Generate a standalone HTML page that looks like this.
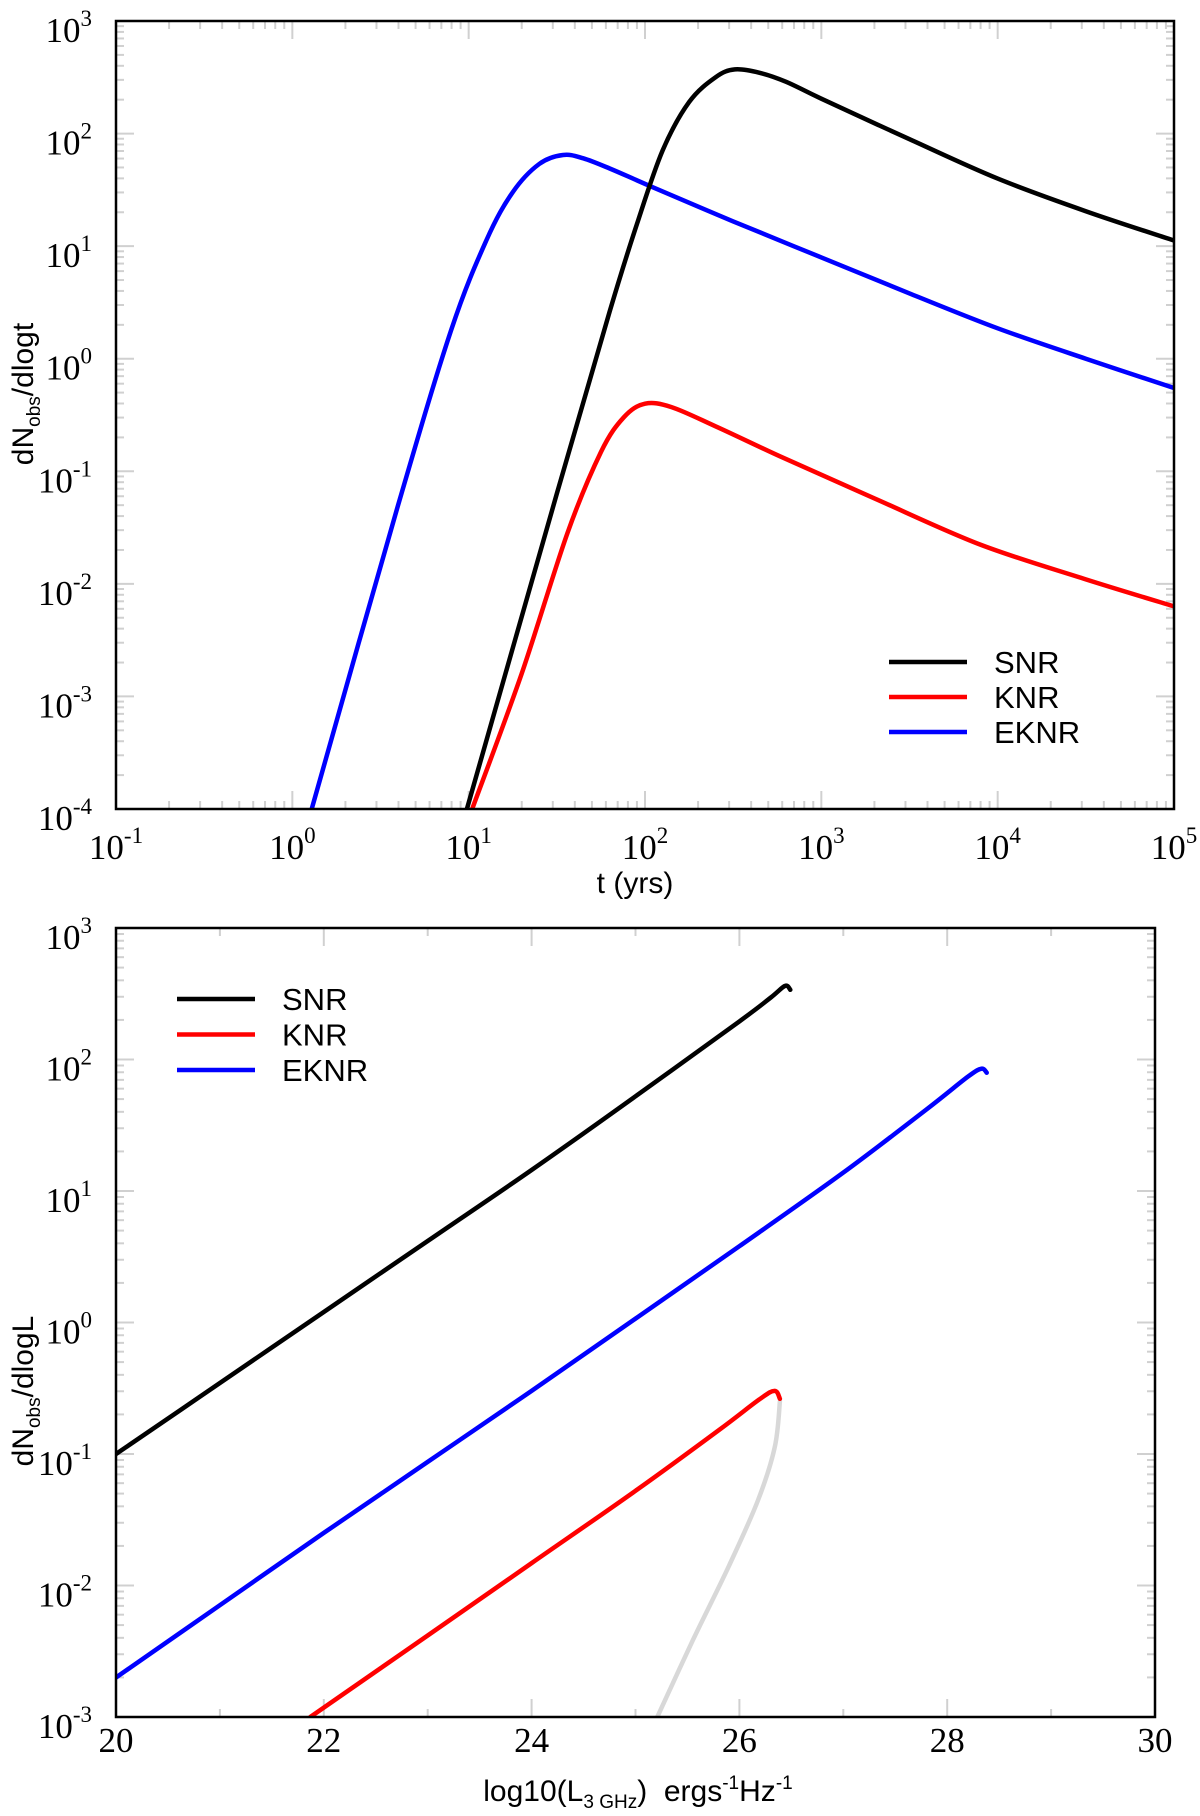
<!DOCTYPE html>
<html><head><meta charset="utf-8"><style>
html,body{margin:0;padding:0;background:#fff}
svg{display:block}
text{font-family:"Liberation Serif",serif;fill:#000}
.sans{font-family:"Liberation Sans",sans-serif}
</style></head><body>
<svg id="fig" width="1200" height="1816" viewBox="0 0 1200 1816" xmlns="http://www.w3.org/2000/svg">
<defs>
<clipPath id="clipTop"><rect x="116" y="21" width="1058" height="788"/></clipPath>
<clipPath id="clipBot"><rect x="116" y="928" width="1039" height="789"/></clipPath>
</defs>
<g id="top"></g>
<g id="bot"></g>
</svg>
<script>
// ---- Top chart data (log10 t, log10 dN/dlogt) ----
const topSnrLogT = [0.99,1.5,1.8,1.955,2.1,2.25,2.4,2.51,2.65,2.8,3.0,3.5,4.0,4.5,5.0];
const topSnrLogY = [-4,-1.2,0.42,1.2,1.85,2.28,2.5,2.57,2.54,2.46,2.31,1.95,1.6,1.31,1.05];
const topKnrLogT = [1.02,1.3,1.56,1.75,1.88,2.0,2.15,2.4,2.77,3.3,3.9,4.5,5.0];
const topKnrLogY = [-4,-2.8,-1.55,-0.83,-0.52,-0.40,-0.43,-0.6,-0.87,-1.24,-1.65,-1.96,-2.2];
const topEknrLogT = [0.11,0.6,0.9,1.1,1.25,1.4,1.535,1.65,1.8,2.02,2.5,3.0,3.5,4.0,4.5,5.0];
const topEknrLogY = [-4,-1.3,0.25,1.05,1.48,1.73,1.81,1.78,1.69,1.54,1.22,0.9,0.58,0.27,0.0,-0.26];
const topXTicks = [-1,0,1,2,3,4,5];
const topYTicks = [-4,-3,-2,-1,0,1,2,3];
// ---- Bottom chart data (log10 L, log10 dN/dlogL) ----
const botSnrX = [20,21,22,23,24,25,26,26.3,26.44,26.49];
const botSnrLogY = [-1.0,-0.46,0.08,0.62,1.16,1.72,2.29,2.47,2.56,2.53];
const botKnrX = [21.87,23,24,25,25.8,26.2,26.34,26.39];
const botKnrLogY = [-3,-2.38,-1.83,-1.28,-0.82,-0.58,-0.52,-0.58];
const botGrayX = [26.39,26.34,26.18,25.9,25.55,25.21];
const botGrayLogY = [-0.6,-0.95,-1.35,-1.85,-2.42,-3.0];
const botEknrX = [20,21,22,23,24,25,26,27,27.8,28.2,28.33,28.38];
const botEknrLogY = [-2.7,-2.15,-1.6,-1.06,-0.52,0.03,0.58,1.14,1.62,1.87,1.93,1.9];
const botXTicks = [20,22,24,26,28,30];
const botYTicks = [-3,-2,-1,0,1,2,3];
const legendLabels = ["SNR","KNR","EKNR"];

const NS="http://www.w3.org/2000/svg";
function mk(tag,attrs,parent){const e=document.createElementNS(NS,tag);for(const k in attrs)e.setAttribute(k,attrs[k]);parent.appendChild(e);return e;}

const T={x0:116,x1:1174,y0:21,y1:809,xmin:-1,xmax:5,ymin:-4,ymax:3};
const B={x0:116,x1:1155,y0:928,y1:1717,xmin:20,xmax:30,ymin:-3,ymax:3};
function sx(A,v){return A.x0+(v-A.xmin)/(A.xmax-A.xmin)*(A.x1-A.x0);}
function sy(A,v){return A.y1-(v-A.ymin)/(A.ymax-A.ymin)*(A.y1-A.y0);}

function smoothPath(A,xs,ys){
  const p=xs.map((x,i)=>[sx(A,x),sy(A,ys[i])]);
  let d="M"+p[0][0].toFixed(1)+","+p[0][1].toFixed(1);
  for(let i=0;i<p.length-1;i++){
    const p0=p[i-1]||p[i],p1=p[i],p2=p[i+1],p3=p[i+2]||p2;
    const c1=[p1[0]+(p2[0]-p0[0])/6,p1[1]+(p2[1]-p0[1])/6];
    const c2=[p2[0]-(p3[0]-p1[0])/6,p2[1]-(p3[1]-p1[1])/6];
    d+=" C"+c1[0].toFixed(1)+","+c1[1].toFixed(1)+" "+c2[0].toFixed(1)+","+c2[1].toFixed(1)+" "+p2[0].toFixed(1)+","+p2[1].toFixed(1);
  }
  return d;
}

function pow10Label(g,x,y,exp,anchorEnd){
  const t=mk("text",{x:x,y:y,"font-size":"35","text-anchor":anchorEnd?"end":"middle"},g);
  
  
  t.appendChild(document.createTextNode("10"));
  const s=mk("tspan",{dy:"-16","font-size":"23"},t);
  s.textContent=String(exp);
}

function frame(g,A){
  const r=mk("rect",{x:A.x0,y:A.y0,width:A.x1-A.x0,height:A.y1-A.y0,fill:"none",stroke:"#000","stroke-width":"2.5"},g);
  
  
}
function tick(g,x1,y1,x2,y2){
  const l=mk("line",{x1:x1,y1:y1,x2:x2,y2:y2,stroke:"#d0d0d0","stroke-width":"2"},g);
  
  
}
function logYTicks(g,A,ticks){
  ticks.forEach((e,i)=>{
    const y=sy(A,e);
    tick(g,A.x0,y,A.x0+18,y);tick(g,A.x1,y,A.x1-18,y);
    pow10Label(g,92,y+21,e,true);
    if(i<ticks.length-1){for(let m=2;m<=9;m++){const ym=sy(A,e+Math.log10(m));tick(g,A.x0,ym,A.x0+8,ym);tick(g,A.x1,ym,A.x1-8,ym);}}
  });
}
function drawSeries(g,A,xs,ys,color,name,clip,w){
  const p=mk("path",{d:smoothPath(A,xs,ys),fill:"none",stroke:color,"stroke-width":w||"4.5","stroke-linejoin":"round","stroke-linecap":"round","clip-path":"url(#"+clip+")"},g);
  
  
}
function legend(g,x,y,dy,tx){
  const colors=["#000","#f00","#00f"];
  legendLabels.forEach((lab,i)=>{
    const lg=mk("g",{},g);
    
    
    mk("line",{x1:x,y1:y+i*dy,x2:x+78,y2:y+i*dy,stroke:colors[i],"stroke-width":"4.5"},lg);
    const t=mk("text",{x:tx,y:y+i*dy+11,"font-size":"31","class":"sans"},lg);
    t.textContent=lab;
  });
}

// ---------- TOP ----------
const gt=document.getElementById('top');
logYTicks(gt,T,topYTicks);
topXTicks.forEach((e,i)=>{
  const x=sx(T,e);
  tick(gt,x,T.y1,x,T.y1-18);tick(gt,x,T.y0,x,T.y0+18);
  pow10Label(gt,x,859,e,false);
  if(i<topXTicks.length-1){for(let m=2;m<=9;m++){const xm=sx(T,e+Math.log10(m));tick(gt,xm,T.y1,xm,T.y1-8);tick(gt,xm,T.y0,xm,T.y0+8);}}
});
drawSeries(gt,T,topEknrLogT,topEknrLogY,"#00f","eknr-time-curve","clipTop");
drawSeries(gt,T,topSnrLogT,topSnrLogY,"#000","snr-time-curve","clipTop");
drawSeries(gt,T,topKnrLogT,topKnrLogY,"#f00","knr-time-curve","clipTop");
frame(gt,T);
legend(gt,889,662,35,994);
let t1=mk("text",{x:635,y:893,"font-size":"30","text-anchor":"middle","class":"sans"},gt);


t1.textContent="t (yrs)";
let t2=mk("text",{x:0,y:0,"font-size":"30","text-anchor":"middle","class":"sans",transform:"translate(33,394) rotate(-90)"},gt);


t2.innerHTML='dN<tspan font-size="19" dy="7">obs</tspan><tspan dy="-7">/dlogt</tspan>';

// ---------- BOTTOM ----------
const gb=document.getElementById('bot');
logYTicks(gb,B,botYTicks);
botXTicks.forEach((v,i)=>{
  const x=sx(B,v);
  tick(gb,x,B.y1,x,B.y1-18);tick(gb,x,B.y0,x,B.y0+18);
  const t=mk("text",{x:x,y:1752,"font-size":"35","text-anchor":"middle"},gb);
  
  
  t.textContent=String(v);
  if(i<botXTicks.length-1){const xm=sx(B,v+1);tick(gb,xm,B.y1,xm,B.y1-8);tick(gb,xm,B.y0,xm,B.y0+8);}
});
drawSeries(gb,B,botGrayX,botGrayLogY,"#d8d8d8","knr-gray-branch","clipBot");
drawSeries(gb,B,botSnrX,botSnrLogY,"#000","snr-luminosity-curve","clipBot");
drawSeries(gb,B,botEknrX,botEknrLogY,"#00f","eknr-luminosity-curve","clipBot");
drawSeries(gb,B,botKnrX,botKnrLogY,"#f00","knr-luminosity-curve","clipBot");
frame(gb,B);
legend(gb,177,999,35.5,282);
let t3=mk("text",{x:638,y:1801,"font-size":"30","text-anchor":"middle","class":"sans"},gb);


t3.style.whiteSpace='pre';
t3.innerHTML='log10(L<tspan font-size="19" dy="7">3 GHz</tspan><tspan dy="-7">)  ergs</tspan><tspan font-size="19" dy="-12">-1</tspan><tspan dy="12">Hz</tspan><tspan font-size="19" dy="-12">-1</tspan>';
let t4=mk("text",{x:0,y:0,"font-size":"30","text-anchor":"middle","class":"sans",transform:"translate(33,1391) rotate(-90)"},gb);


t4.innerHTML='dN<tspan font-size="19" dy="7">obs</tspan><tspan dy="-7">/dlogL</tspan>';
</script>
</body></html>
